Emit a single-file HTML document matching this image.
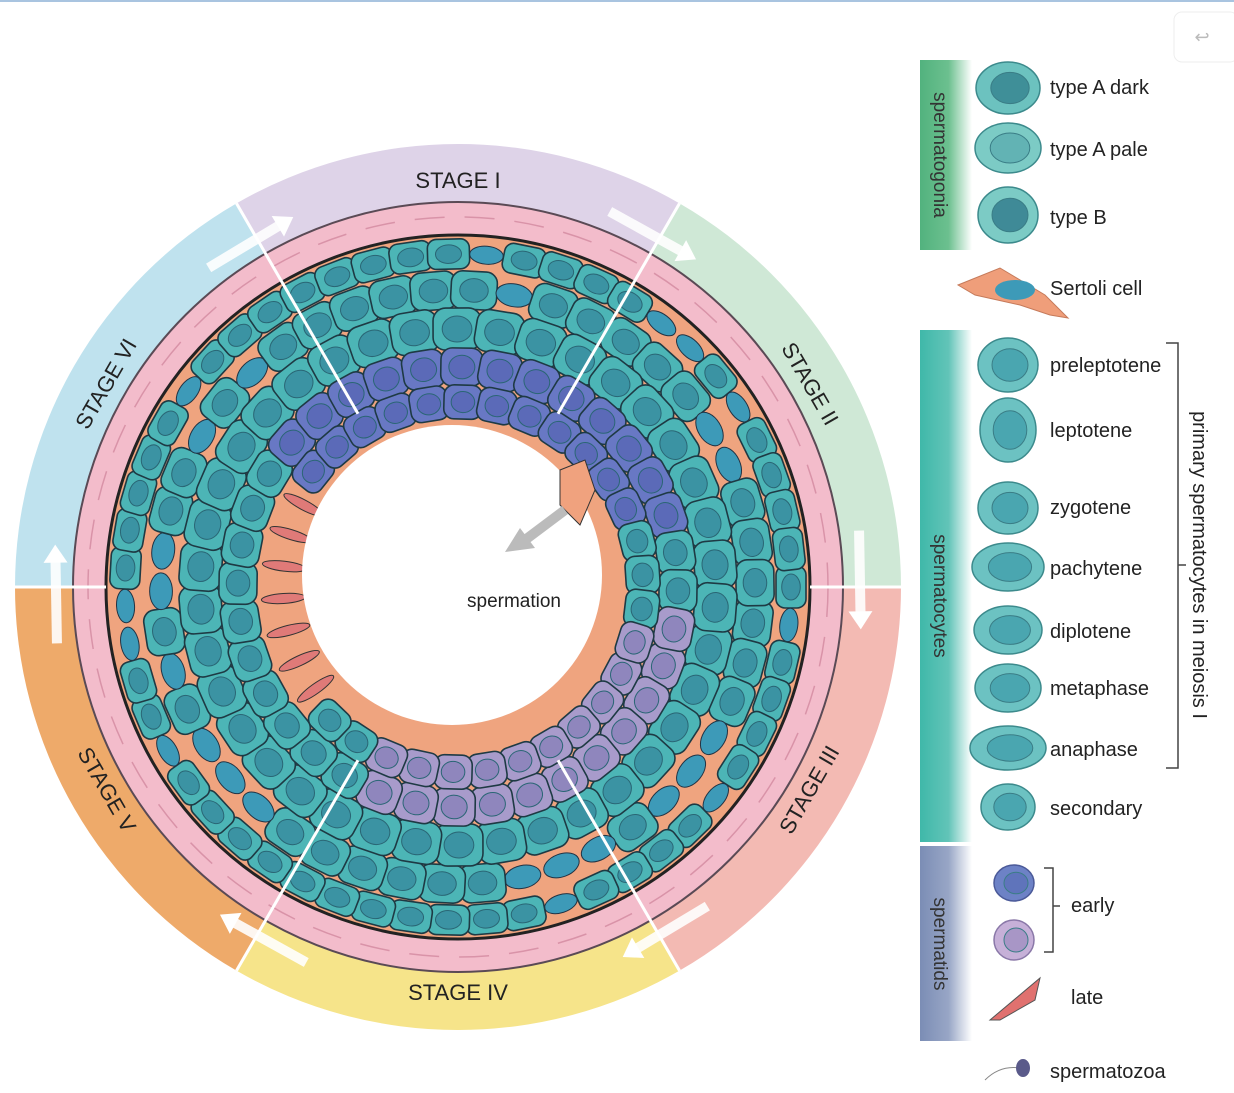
<!DOCTYPE html>
<html><head><meta charset="utf-8">
<style>
html,body{margin:0;padding:0;background:#fff;}
body{width:1234px;height:1093px;overflow:hidden;position:relative;font-family:"Liberation Sans",sans-serif;}
svg{position:absolute;left:0;top:0;}
</style></head>
<body>
<svg id="s" width="1234" height="1093" viewBox="0 0 1234 1093" xmlns="http://www.w3.org/2000/svg" font-family="Liberation Sans, sans-serif">
<defs>
<linearGradient id="gG" x1="0" x2="1"><stop offset="0" stop-color="#52b27e"/><stop offset="0.55" stop-color="#6cc08f"/><stop offset="1" stop-color="#fff"/></linearGradient>
<linearGradient id="gT" x1="0" x2="1"><stop offset="0" stop-color="#3fb8a9"/><stop offset="0.55" stop-color="#62c4b8"/><stop offset="1" stop-color="#fff"/></linearGradient>
<linearGradient id="gB" x1="0" x2="1"><stop offset="0" stop-color="#7b8db5"/><stop offset="0.55" stop-color="#98a6c6"/><stop offset="1" stop-color="#fff"/></linearGradient>
</defs>
<rect x="0" y="0" width="1234" height="2" fill="#a9c4e0"/>
<rect x="1174" y="12" width="64" height="50" rx="8" fill="#fff" stroke="#eee"/>
<text x="1202" y="43" font-size="18" fill="#bbb" text-anchor="middle">↩</text>
<g id="ring"></g>
<g id="cells"></g>
<g id="over"></g>
<rect x="920" y="60" width="52" height="190" fill="url(#gG)"/>
<rect x="920" y="330" width="52" height="512" fill="url(#gT)"/>
<rect x="920" y="846" width="52" height="195" fill="url(#gB)"/>
<text transform="translate(934,155) rotate(90)" font-size="19" fill="#333" text-anchor="middle">spermatogonia</text>
<text transform="translate(934,596) rotate(90)" font-size="19" fill="#333" text-anchor="middle">spermatocytes</text>
<text transform="translate(934,944) rotate(90)" font-size="19" fill="#333" text-anchor="middle">spermatids</text>
<g font-size="20" fill="#222">
<text x="1050" y="94">type A dark</text>
<text x="1050" y="156">type A pale</text>
<text x="1050" y="224">type B</text>
<text x="1050" y="295">Sertoli cell</text>
<text x="1050" y="372">preleptotene</text>
<text x="1050" y="437">leptotene</text>
<text x="1050" y="514">zygotene</text>
<text x="1050" y="575">pachytene</text>
<text x="1050" y="638">diplotene</text>
<text x="1050" y="695">metaphase</text>
<text x="1050" y="756">anaphase</text>
<text x="1050" y="815">secondary</text>
<text x="1071" y="912">early</text>
<text x="1071" y="1004">late</text>
<text x="1050" y="1078">spermatozoa</text>
</g>
<path d="M1166 343 H1178 V768 H1166 M1178 565 H1186" fill="none" stroke="#444" stroke-width="1.5"/>
<text transform="translate(1193,565) rotate(90)" font-size="20" fill="#222" text-anchor="middle">primary spermatocytes in meiosis I</text>
<path d="M1044 868 H1053 V952 H1044 M1053 906 H1060" fill="none" stroke="#444" stroke-width="1.5"/>
<g id="leg"></g>
</svg>
<script>
var NS="http://www.w3.org/2000/svg";
function el(p,t,a){var e=document.createElementNS(NS,t);for(var k in a)e.setAttribute(k,a[k]);p.appendChild(e);return e;}
var cx=458,cy=587,R=443,R1=385;
var ring=document.getElementById('ring'),cells=document.getElementById('cells'),over=document.getElementById('over'),leg=document.getElementById('leg');
function pt(r,a){a=a*Math.PI/180;return [cx+r*Math.cos(a),cy+r*Math.sin(a)];}
var cols=[["#ded3e8",-120,-60],["#cfe8d6",-60,0],["#f3bab3",0,60],["#f6e48a",60,120],["#eeaa6a",120,180],["#bfe2ee",180,240]];
cols.forEach(function(c){var a=pt(R,c[1]),b=pt(R,c[2]),d=pt(R1,c[2]),e=pt(R1,c[1]);
el(ring,'path',{d:'M'+a+' A'+R+' '+R+' 0 0 1 '+b+' L'+d+' A'+R1+' '+R1+' 0 0 0 '+e+'Z',fill:c[0]});});
el(ring,'circle',{cx:cx,cy:cy,r:R1,fill:"#f3bccb",stroke:"#5a4a55","stroke-width":2});
el(ring,'circle',{cx:cx,cy:cy,r:370,fill:"none",stroke:"#d993a8","stroke-width":1.5,"stroke-dasharray":"30 20"});
el(ring,'circle',{cx:cx,cy:cy,r:352,fill:"#efa47f",stroke:"#222","stroke-width":3});
var labs=[["STAGE I",-90],["STAGE II",-30],["STAGE III",30],["STAGE IV",90],["STAGE V",150],["STAGE VI",210]];
labs.forEach(function(l){var p=pt(406,l[1]);var rot=l[1]+90;if(l[1]>0&&l[1]<180)rot=l[1]-90;
var t=el(ring,'text',{x:p[0],y:p[1]+7,"font-size":22,fill:"#222","text-anchor":"middle",transform:"rotate("+rot+" "+p[0]+" "+p[1]+")"});t.textContent=l[0];});
var lx=452,ly=575,LR=150;
function rnd(i){var x=Math.sin(i*12.9898)*43758.5453;return x-Math.floor(x);}
var rings=[{r:333,s:38,a:21,b:15,k:0},{r:297,s:40,a:23,b:19,k:1},{r:258,s:42,a:24,b:21,k:2},{r:220,s:38,a:21,b:19,k:3},{r:185,s:34,a:19,b:17,k:4}];
var idx=0;
rings.forEach(function(g){var n=Math.floor(2*Math.PI*g.r/g.s);for(var i=0;i<n;i++){idx++;
var ang=i*360/n+g.k*7;var p=pt(g.r,ang);var dl=Math.hypot(p[0]-lx,p[1]-ly);if(dl<LR+g.b-4)continue;
var A=((ang%360)+360)%360;var fill="#4cb5b6",nf="#3b93a3";
if(g.k>=3){ if(A>215&&A<345){fill="#6878c4";nf="#5b6ab8";} else if(A>10&&A<120){fill="#a89bcb";nf="#8f86bd";} }
if(g.k==4&&A>140&&A<215){
 var q=pt(g.r-10,ang);el(cells,'ellipse',{cx:q[0],cy:q[1],rx:22,ry:5,fill:"#e07a78",stroke:"#333","stroke-width":1,transform:"rotate("+ang+" "+q[0]+" "+q[1]+")"});continue;}
if(g.k<=1&&rnd(idx)<0.22){
 el(cells,'ellipse',{cx:p[0],cy:p[1],rx:g.a*0.8,ry:g.b*0.6,fill:"#3d9ab8",stroke:"#234","stroke-width":1,transform:"rotate("+(ang+90)+" "+p[0]+" "+p[1]+")"});continue;}
var tr="rotate("+(ang+90)+" "+p[0]+" "+p[1]+")";
el(cells,'rect',{x:p[0]-g.a,y:p[1]-g.b,width:2*g.a,height:2*g.b,rx:g.b*0.6,fill:fill,stroke:"#1e3a44","stroke-width":1.6,transform:tr});
el(cells,'ellipse',{cx:p[0],cy:p[1],rx:g.a*0.62,ry:g.b*0.62,fill:nf,stroke:"#2a6675","stroke-width":1,transform:tr});
}});
el(cells,'circle',{cx:lx,cy:ly,r:LR,fill:"#fff"});
el(cells,'path',{d:"M560 470 l25 -10 l10 30 l-15 35 l-20 -20z",fill:"#f0a27e",stroke:"#333"});
[-120,-60,60,120].forEach(function(a){var p1=pt(R,a),p2=pt(200,a);el(over,'line',{x1:p1[0],y1:p1[1],x2:p2[0],y2:p2[1],stroke:"#fff","stroke-width":3});});
[0,180].forEach(function(a){var p1=pt(R,a),p2=pt(352,a);el(over,'line',{x1:p1[0],y1:p1[1],x2:p2[0],y2:p2[1],stroke:"#fff","stroke-width":3});});
[-120,-60,0,60,120,180].forEach(function(a){var p1=pt(405,a-8),p2=pt(405,a+6);
var ang=Math.atan2(p2[1]-p1[1],p2[0]-p1[0]);
el(over,'line',{x1:p1[0],y1:p1[1],x2:p2[0]-10*Math.cos(ang),y2:p2[1]-10*Math.sin(ang),stroke:"#fff","stroke-width":10,opacity:0.9});
var h1=[p2[0]-18*Math.cos(ang)+12*Math.sin(ang),p2[1]-18*Math.sin(ang)-12*Math.cos(ang)],h2=[p2[0]-18*Math.cos(ang)-12*Math.sin(ang),p2[1]-18*Math.sin(ang)+12*Math.cos(ang)];
el(over,'polygon',{points:p2+' '+h1+' '+h2,fill:"#fff"});});
el(over,'line',{x1:565,y1:510,x2:525,y2:540,stroke:"#bbb","stroke-width":10});
el(over,'polygon',{points:"505,552 520,528 535,548",fill:"#bbb"});
var t=el(over,'text',{x:514,y:607,"font-size":19,fill:"#222","text-anchor":"middle"});t.textContent="spermation";
function lc(x,y,rx,ry,f,nf,stroke){el(leg,'ellipse',{cx:x,cy:y,rx:rx,ry:ry,fill:f,stroke:stroke||"#3c8a8c","stroke-width":1.5});if(nf)el(leg,'ellipse',{cx:x+2,cy:y,rx:rx*0.6,ry:ry*0.6,fill:nf,stroke:"#3a7d86"});}
lc(1008,88,32,26,"#6cc2bf","#3f8f98");lc(1008,148,33,25,"#7ccbc5","#62b3b4");lc(1008,215,30,28,"#7ccbc5","#3f8a97");
el(leg,'path',{d:"M958 285 L1000 268 L1045 295 L1068 318 L1050 315 L1020 305 L975 295Z",fill:"#ef9e7a",stroke:"#c57a5a"});
el(leg,'ellipse',{cx:1015,cy:290,rx:20,ry:10,fill:"#3d9ab8"});
[[365,30,27],[430,28,32],[508,30,26],[567,36,24],[630,34,24],[688,33,24],[748,38,22],[807,27,23]].forEach(function(c){lc(1008,c[0],c[1],c[2],"#6cc2c2","#4aa6b0");});
lc(1014,883,20,18,"#6d82c6","#5f74bb","#4b5a99");lc(1014,940,20,20,"#c6b0d8","#a896c6","#8a78a8");
el(leg,'path',{d:"M990 1020 L1040 978 L1035 1000 L1000 1020Z",fill:"#e0716f",stroke:"#555"});
el(leg,'path',{d:"M985 1080 Q1000 1065 1020 1068",fill:"none",stroke:"#888"});
el(leg,'ellipse',{cx:1023,cy:1068,rx:7,ry:9,fill:"#5a5a8a"});
</script>
</body></html>
